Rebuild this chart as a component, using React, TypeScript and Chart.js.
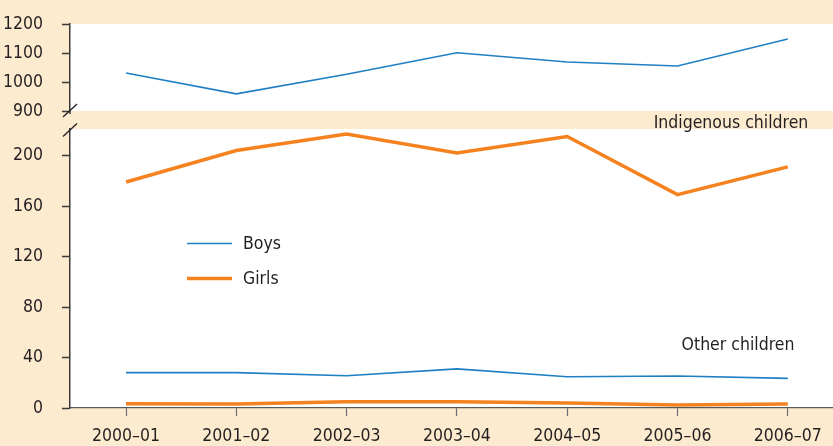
import React, { useEffect, useRef } from 'react';
import { Chart, registerables } from 'chart.js';

Chart.register(...registerables);

const categories = ['2000–01', '2001–02', '2002–03', '2003–04', '2004–05', '2005–06', '2006–07'];
const indigenousBoys = [1031, 959, 1027, 1101, 1069, 1055, 1148];
const indigenousGirls = [179, 204, 217, 202, 215, 169, 191];
const otherBoys = [28, 28, 25.5, 31, 24.8, 25.3, 23.5];
const otherGirls = [3.4, 3.2, 5, 5, 4, 2.4, 3.2];
const topTicks = [900, 1000, 1100, 1200];
const bottomTicks = [0, 40, 80, 120, 160, 200];
const seriesNames = ['Boys', 'Girls'];
const groupLabels = ['Indigenous children', 'Other children'];

const W = 833;
const H = 446;
const PEACH = '#fdebd0';
const BLUE = '#1f7fc4';
const ORANGE = '#f5821f';
const INK = '#231f20';
const FONT = '"DejaVu Sans Condensed", "DejaVu Sans", sans-serif';
const FS = 17.5;

const toPts = (arr: number[]) => arr.map((v, i) => ({ x: i, y: v }));

const xScale = (display: boolean) => ({
  type: 'linear' as const,
  min: -0.508,
  max: 6.41,
  display,
  afterBuildTicks: (s: any) => {
    s.ticks = categories.map((_, i) => ({ value: i }));
  },
  afterFit: (s: any) => {
    if (display) s.height = 38;
    s.paddingLeft = 0;
    s.paddingRight = 0;
  },
  grid: { display: true, drawOnChartArea: false, drawTicks: true, tickLength: 8, tickColor: '#6d6e71', tickWidth: 1.2 },
  border: { display: true, color: '#58595b', width: 1.3 },
  ticks: {
    color: INK,
    font: { family: FONT, size: FS },
    padding: 10,
    maxRotation: 0,
    autoSkip: false,
    callback: (v: any) => categories[Math.round(v)] ?? '',
  },
});

const yScale = (min: number, max: number, ticks: number[]) => ({
  type: 'linear' as const,
  min,
  max,
  afterBuildTicks: (s: any) => {
    s.ticks = ticks.map((v) => ({ value: v }));
  },
  afterFit: (s: any) => {
    s.width = 70;
    s.paddingTop = 0;
    s.paddingBottom = 0;
  },
  grid: { display: true, drawOnChartArea: false, drawTicks: true, tickLength: 8, tickColor: '#3a3a3a', tickWidth: 1.5 },
  border: { display: true, color: '#3a3a3a', width: 1.5 },
  ticks: {
    color: INK,
    font: { family: FONT, size: FS },
    padding: 19,
    callback: (v: any) => String(v),
  },
});

const whiteArea = {
  id: 'whiteArea',
  beforeDraw(chart: any) {
    const { ctx, chartArea: a } = chart;
    ctx.save();
    ctx.fillStyle = '#ffffff';
    ctx.fillRect(a.left, a.top, a.right - a.left, a.bottom - a.top);
    ctx.restore();
  },
};

const breakMark = (where: 'top' | 'bottom') => ({
  id: 'breakMark' + where,
  afterDraw(chart: any) {
    const { ctx, chartArea: a } = chart;
    const cx = a.left;
    const cy = where === 'top' ? a.bottom - 0.5 : a.top + 1;
    ctx.save();
    ctx.strokeStyle = '#231f20';
    ctx.lineWidth = 1.3;
    ctx.beginPath();
    ctx.moveTo(cx - 7, cy + 6.5);
    ctx.lineTo(cx + 7, cy - 6.5);
    ctx.stroke();
    if (where === 'top') {
      ctx.strokeStyle = '#3a3a3a';
      ctx.lineWidth = 1.5;
      ctx.beginPath();
      ctx.moveTo(cx, a.bottom);
      ctx.lineTo(cx, a.bottom + 3);
      ctx.stroke();
    }
    ctx.restore();
  },
});

const annotations = {
  id: 'annotations',
  afterDraw(chart: any) {
    const { ctx } = chart;
    ctx.save();
    ctx.font = `${FS}px ${FONT}`;
    ctx.fillStyle = INK;
    ctx.textBaseline = 'alphabetic';
    ctx.textAlign = 'center';
    ctx.fillText(groupLabels[0], 731, 127.5);
    ctx.fillText(groupLabels[1], 738, 350);
    // legend
    ctx.textAlign = 'left';
    ctx.lineCap = 'butt';
    ctx.strokeStyle = BLUE;
    ctx.lineWidth = 1.5;
    ctx.beginPath();
    ctx.moveTo(187, 243.5);
    ctx.lineTo(232, 243.5);
    ctx.stroke();
    ctx.strokeStyle = ORANGE;
    ctx.lineWidth = 3.5;
    ctx.beginPath();
    ctx.moveTo(187, 278.5);
    ctx.lineTo(232, 278.5);
    ctx.stroke();
    ctx.fillText(seriesNames[0], 243, 248.5);
    ctx.fillText(seriesNames[1], 243, 283.5);
    ctx.restore();
  },
};

export default function App() {
  const topRef = useRef<HTMLCanvasElement>(null);
  const botRef = useRef<HTMLCanvasElement>(null);

  useEffect(() => {
    document.body.style.margin = '0';
    const common = {
      responsive: false,
      animation: false as const,
      devicePixelRatio: 1,
      plugins: { legend: { display: false }, tooltip: { enabled: false } },
      elements: { point: { radius: 0 }, line: { tension: 0 } },
    };
    const top = new Chart(topRef.current!, {
      type: 'line',
      data: {
        datasets: [
          { label: 'Indigenous boys', data: toPts(indigenousBoys), borderColor: BLUE, borderWidth: 1.6, pointRadius: 0, fill: false },
        ],
      },
      options: {
        ...common,
        layout: { padding: { top: 24, bottom: H - 111, left: 0, right: 0 } },
        scales: { x: xScale(false), y: yScale(900, 1200, topTicks) },
      } as any,
      plugins: [whiteArea, breakMark('top')],
    });
    const bot = new Chart(botRef.current!, {
      type: 'line',
      data: {
        datasets: [
          { label: 'Indigenous girls', data: toPts(indigenousGirls), borderColor: ORANGE, borderWidth: 3.5, pointRadius: 0, fill: false },
          { label: 'Other boys', data: toPts(otherBoys), borderColor: BLUE, borderWidth: 1.6, pointRadius: 0, fill: false },
          { label: 'Other girls', data: toPts(otherGirls), borderColor: ORANGE, borderWidth: 3.5, pointRadius: 0, fill: false },
        ],
      },
      options: {
        ...common,
        layout: { padding: { top: 129, bottom: 0, left: 0, right: 0 } },
        scales: { x: xScale(true), y: yScale(0, 221, bottomTicks) },
      } as any,
      plugins: [whiteArea, breakMark('bottom'), annotations],
    });
    return () => {
      top.destroy();
      bot.destroy();
    };
  }, []);

  return (
    <div style={{ position: 'fixed', left: 0, top: 0, width: W, height: H, background: PEACH, overflow: 'hidden' }}>
      <canvas ref={topRef} width={W} height={H} style={{ position: 'absolute', left: 0, top: 0, width: W, height: H }} />
      <canvas ref={botRef} width={W} height={H} style={{ position: 'absolute', left: 0, top: 0, width: W, height: H }} />
    </div>
  );
}
